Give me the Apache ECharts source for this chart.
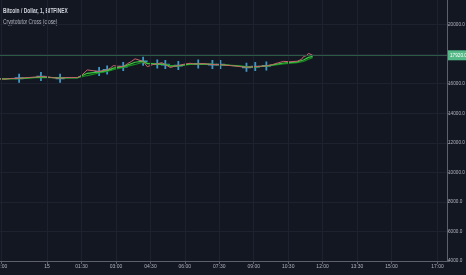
<!DOCTYPE html>
<html><head><meta charset="utf-8">
<script src="https://cdn.jsdelivr.net/npm/echarts@6/dist/echarts.min.js"></script>
<style>html,body{margin:0;padding:0;background:#131722;}#c{width:466px;height:275px;}</style>
</head><body><div id="c"></div>
<script>
// ---- data ----
const titleText = 'Bitcoin / Dollar, 1, BITFINEX';
const indicatorText = 'Cryptotutor Cross (close)';
// x in minutes from 15th 00:00
const timeTicks = [-120, 0, 90, 180, 270, 360, 450, 540, 630, 720, 810, 900, 1020];
const timeTickLabels = ['22:00', '15', '01:30', '03:00', '04:30', '06:00', '07:30', '09:00', '10:30', '12:00', '13:30', '15:00', '17:00'];
const priceTimes = [-123,-110,-95,-73,-60,-45,-30,-16,0,15,34,50,65,79,90,105,120,136,148,157,165,173,185,199,210,220,230,240,251,262,275,288,300,309,322,333,343,358,374,385,395,410,432,453,470,490,505,521,535,544,560,573,590,605,618,635,654,665,670,678,683,688,694];
const priceClose = [16330,16300,16350,16365,16390,16420,16450,16480,16470,16400,16370,16410,16420,16410,16560,16930,16880,16820,16900,16930,17050,17220,17180,17150,17350,17500,17680,17600,17510,17150,17280,17340,17420,17290,17090,17180,17220,17320,17380,17330,17340,17360,17290,17290,17240,17200,17150,17110,17130,17150,17180,17200,17300,17420,17510,17480,17520,17650,17830,17900,18050,17950,17920];
const maTimes = [-123,-73,-16,34,79,105,136,157,173,199,230,251,262,288,309,322,343,374,395,432,453,505,521,544,573,618,654,670,683,694];
const fastMA = [16320,16350,16450,16390,16400,16700,16800,16880,17050,17150,17450,17520,17350,17320,17300,17180,17200,17330,17340,17300,17290,17180,17120,17140,17200,17400,17480,17600,17780,17850];
const slowMA = [16310,16340,16420,16400,16390,16550,16720,16830,16950,17100,17300,17450,17400,17340,17310,17240,17210,17300,17330,17310,17290,17210,17150,17140,17180,17330,17430,17500,17650,17760];
const crossTimes = [-73,-16,34,136,157,199,251,288,309,343,395,432,453,521,544,573];
const crossValues = [16365,16480,16365,16818,16932,17155,17514,17338,17291,17223,17338,17291,17291,17108,17155,17203];
const lastPrice = 17920;

const zip = (a, b) => a.map((t, i) => [t, b[i]]);
const chart = echarts.init(document.getElementById('c'), null, {renderer: 'canvas'});
const labelFont = "'Liberation Sans', sans-serif";
chart.setOption({
  backgroundColor: '#131722',
  animation: false,
  graphic: [
    {type: 'text', x: 3, y: 11, scaleX: 0.7, silent: true,
     style: {text: titleText, font: 'bold 7px "Liberation Sans", sans-serif', fill: '#d1d4dc', textVerticalAlign: 'middle'}},
    {type: 'text', x: 3, y: 22, scaleX: 0.7, silent: true,
     style: {text: indicatorText, font: '7px "Liberation Sans", sans-serif', fill: '#b2b5be', textVerticalAlign: 'middle'}}
  ],
  grid: {left: 0, right: 19, top: -5, bottom: 14, outerBoundsMode: 'none', containLabel: false},
  xAxis: {
    type: 'value', min: -123, max: 1045,
    axisLine: {show: true, onZero: false, lineStyle: {color: '#5d606b', width: 1}},
    axisTick: {show: true, customValues: timeTicks, length: 3, lineStyle: {color: '#5d606b'}},
    axisLabel: {
      customValues: timeTicks, fontSize: 5, color: '#b2b5be', fontFamily: labelFont, margin: 3,
      hideOverlap: false,
      formatter: v => timeTickLabels[timeTicks.indexOf(v)] ?? ''
    },
    splitLine: {show: false}
  },
  yAxis: {
    type: 'value', position: 'right', min: 4000, max: 22000, interval: 2000,
    axisLine: {show: true, onZero: false, lineStyle: {color: '#5d606b', width: 1}},
    axisTick: {show: true, length: 2, lineStyle: {color: '#5d606b'}},
    axisLabel: {
      fontSize: 4.7, color: '#b2b5be', fontFamily: labelFont, margin: 1,
      formatter: v => (v === 18000 || v === 22000) ? '' : v.toFixed(1)
    },
    splitLine: {show: true, lineStyle: {color: '#1e2230', width: 1}}
  },
  series: [
    {
      type: 'line', data: zip(maTimes, slowMA), symbol: 'none',
      lineStyle: {color: '#148c1e', width: 1.2},
      markLine: {
        silent: true, symbol: 'none', animation: false,
        label: {show: false},
        lineStyle: {color: '#1e2230', type: 'solid', width: 1},
        data: timeTicks.map(t => ({xAxis: t}))
      }
    },
    {
      type: 'line', data: zip(maTimes, fastMA), symbol: 'none',
      lineStyle: {color: '#3cc83c', width: 1.2}
    },
    {
      type: 'line', data: zip(priceTimes, priceClose), symbol: 'none',
      lineStyle: {color: '#c8646e', width: 1},
      markLine: {
        silent: true, symbol: 'none', animation: false,
        lineStyle: {color: '#2c5a44', type: 'solid', width: 1},
        label: {
          show: true, position: 'end', distance: 1,
          formatter: lastPrice.toFixed(1),
          backgroundColor: '#53b987', color: '#ffffff',
          fontSize: 4.7, fontFamily: labelFont, padding: [3, 1, 2, 2]
        },
        data: [{yAxis: lastPrice}]
      }
    },
    {
      type: 'scatter', data: zip(crossTimes, crossValues),
      symbol: 'path://M4,0 L6,0 L6,4 L10,4 L10,6 L6,6 L6,10 L4,10 L4,6 L0,6 L0,4 L4,4 Z',
      symbolSize: 9,
      itemStyle: {color: '#3f9fd0', opacity: 0.95}
    }
  ]
});
</script></body></html>
